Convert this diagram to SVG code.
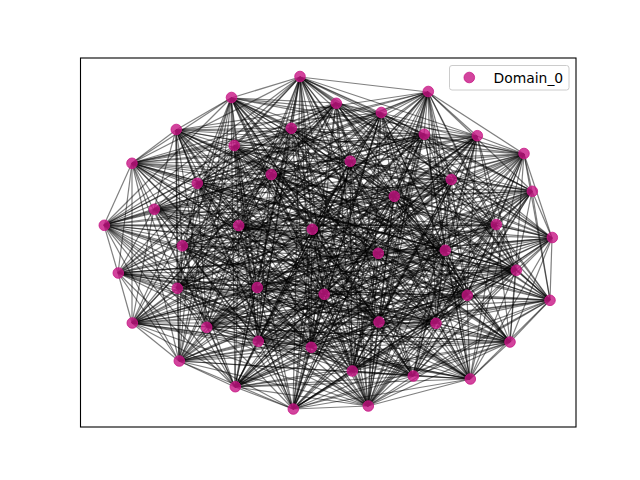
<svg xmlns="http://www.w3.org/2000/svg" width="640" height="480" viewBox="0 0 640 480">
<style>
#edges path{fill:none;stroke:#000;stroke-opacity:0.5;stroke-width:1.2}
.node{fill:#c71585;fill-opacity:0.8;stroke:#c71585;stroke-opacity:0.8;stroke-width:1}
.lbl{font-family:"DejaVu Sans",sans-serif;font-size:13.9px;fill:#000}
</style>
<rect x="0" y="0" width="640" height="480" fill="#fff"/>
<g id="edges">
<path d="M300 77 231 98"/><path d="M300 77 336 103"/><path d="M300 77 428 92"/><path d="M300 77 234 146"/><path d="M300 77 271 175"/><path d="M300 77 154 209"/><path d="M300 77 239 226"/><path d="M300 77 424 134"/><path d="M300 77 350 161"/><path d="M300 77 532 191"/><path d="M300 77 496 225"/><path d="M300 77 378 253"/><path d="M300 77 257 288"/><path d="M300 77 207 327"/><path d="M300 77 311 347"/><path d="M300 77 293 409"/><path d="M300 77 550 300"/><path d="M300 77 436 323"/><path d="M300 77 413 376"/><path d="M300 77 368 406"/>
<path d="M231 98 381 113"/><path d="M231 98 291 128"/><path d="M231 98 176 130"/><path d="M231 98 132 163"/><path d="M231 98 197 183"/><path d="M231 98 312 229"/><path d="M231 98 477 136"/><path d="M231 98 451 180"/><path d="M231 98 394 196"/><path d="M231 98 445 250"/><path d="M231 98 177 288"/><path d="M231 98 324 294"/><path d="M231 98 258 341"/><path d="M231 98 235 387"/><path d="M231 98 516 270"/><path d="M231 98 379 322"/><path d="M231 98 352 371"/><path d="M231 98 470 379"/>
<path d="M336 103 381 113"/><path d="M336 103 291 128"/><path d="M336 103 132 163"/><path d="M336 103 197 183"/><path d="M336 103 104 225"/><path d="M336 103 182 246"/><path d="M336 103 524 154"/><path d="M336 103 451 180"/><path d="M336 103 552 238"/><path d="M336 103 118 273"/><path d="M336 103 257 288"/><path d="M336 103 132 323"/><path d="M336 103 179 361"/><path d="M336 103 467 295"/><path d="M336 103 510 342"/><path d="M336 103 413 376"/>
<path d="M381 113 428 92"/><path d="M381 113 234 146"/><path d="M381 113 176 130"/><path d="M381 113 154 209"/><path d="M381 113 239 226"/><path d="M381 113 424 134"/><path d="M381 113 350 161"/><path d="M381 113 394 196"/><path d="M381 113 445 250"/><path d="M381 113 177 288"/><path d="M381 113 207 327"/><path d="M381 113 311 347"/><path d="M381 113 235 387"/><path d="M381 113 550 300"/><path d="M381 113 352 371"/><path d="M381 113 368 406"/>
<path d="M428 92 291 128"/><path d="M428 92 132 163"/><path d="M428 92 271 175"/><path d="M428 92 104 225"/><path d="M428 92 312 229"/><path d="M428 92 477 136"/><path d="M428 92 524 154"/><path d="M428 92 532 191"/><path d="M428 92 496 225"/><path d="M428 92 378 253"/><path d="M428 92 324 294"/><path d="M428 92 258 341"/><path d="M428 92 293 409"/><path d="M428 92 467 295"/><path d="M428 92 436 323"/><path d="M428 92 470 379"/>
<path d="M291 128 176 130"/><path d="M291 128 271 175"/><path d="M291 128 154 209"/><path d="M291 128 239 226"/><path d="M291 128 182 246"/><path d="M291 128 350 161"/><path d="M291 128 394 196"/><path d="M291 128 552 238"/><path d="M291 128 118 273"/><path d="M291 128 132 323"/><path d="M291 128 311 347"/><path d="M291 128 516 270"/><path d="M291 128 379 322"/><path d="M291 128 510 342"/><path d="M291 128 368 406"/>
<path d="M234 146 132 163"/><path d="M234 146 197 183"/><path d="M234 146 104 225"/><path d="M234 146 312 229"/><path d="M234 146 477 136"/><path d="M234 146 451 180"/><path d="M234 146 496 225"/><path d="M234 146 378 253"/><path d="M234 146 257 288"/><path d="M234 146 258 341"/><path d="M234 146 179 361"/><path d="M234 146 467 295"/><path d="M234 146 436 323"/><path d="M234 146 413 376"/>
<path d="M176 130 132 163"/><path d="M176 130 271 175"/><path d="M176 130 154 209"/><path d="M176 130 182 246"/><path d="M176 130 524 154"/><path d="M176 130 532 191"/><path d="M176 130 445 250"/><path d="M176 130 177 288"/><path d="M176 130 324 294"/><path d="M176 130 207 327"/><path d="M176 130 293 409"/><path d="M176 130 550 300"/><path d="M176 130 352 371"/><path d="M176 130 470 379"/>
<path d="M132 163 197 183"/><path d="M132 163 104 225"/><path d="M132 163 239 226"/><path d="M132 163 424 134"/><path d="M132 163 350 161"/><path d="M132 163 496 225"/><path d="M132 163 118 273"/><path d="M132 163 257 288"/><path d="M132 163 132 323"/><path d="M132 163 311 347"/><path d="M132 163 516 270"/><path d="M132 163 379 322"/><path d="M132 163 413 376"/>
<path d="M271 175 104 225"/><path d="M271 175 312 229"/><path d="M271 175 424 134"/><path d="M271 175 524 154"/><path d="M271 175 451 180"/><path d="M271 175 552 238"/><path d="M271 175 378 253"/><path d="M271 175 324 294"/><path d="M271 175 258 341"/><path d="M271 175 235 387"/><path d="M271 175 467 295"/><path d="M271 175 510 342"/><path d="M271 175 368 406"/>
<path d="M197 183 154 209"/><path d="M197 183 239 226"/><path d="M197 183 477 136"/><path d="M197 183 532 191"/><path d="M197 183 394 196"/><path d="M197 183 445 250"/><path d="M197 183 177 288"/><path d="M197 183 207 327"/><path d="M197 183 179 361"/><path d="M197 183 293 409"/><path d="M197 183 550 300"/><path d="M197 183 436 323"/><path d="M197 183 470 379"/>
<path d="M154 209 104 225"/><path d="M154 209 312 229"/><path d="M154 209 424 134"/><path d="M154 209 451 180"/><path d="M154 209 496 225"/><path d="M154 209 118 273"/><path d="M154 209 257 288"/><path d="M154 209 132 323"/><path d="M154 209 311 347"/><path d="M154 209 516 270"/><path d="M154 209 510 342"/><path d="M154 209 413 376"/>
<path d="M104 225 182 246"/><path d="M104 225 477 136"/><path d="M104 225 350 161"/><path d="M104 225 394 196"/><path d="M104 225 552 238"/><path d="M104 225 378 253"/><path d="M104 225 118 273"/><path d="M104 225 324 294"/><path d="M104 225 258 341"/><path d="M104 225 235 387"/><path d="M104 225 467 295"/><path d="M104 225 379 322"/><path d="M104 225 352 371"/><path d="M104 225 368 406"/>
<path d="M239 226 182 246"/><path d="M239 226 524 154"/><path d="M239 226 532 191"/><path d="M239 226 445 250"/><path d="M239 226 177 288"/><path d="M239 226 207 327"/><path d="M239 226 179 361"/><path d="M239 226 516 270"/><path d="M239 226 550 300"/><path d="M239 226 510 342"/><path d="M239 226 470 379"/>
<path d="M312 229 424 134"/><path d="M312 229 477 136"/><path d="M312 229 350 161"/><path d="M312 229 394 196"/><path d="M312 229 445 250"/><path d="M312 229 257 288"/><path d="M312 229 132 323"/><path d="M312 229 311 347"/><path d="M312 229 293 409"/><path d="M312 229 379 322"/><path d="M312 229 352 371"/><path d="M312 229 368 406"/>
<path d="M182 246 524 154"/><path d="M182 246 451 180"/><path d="M182 246 496 225"/><path d="M182 246 378 253"/><path d="M182 246 177 288"/><path d="M182 246 324 294"/><path d="M182 246 258 341"/><path d="M182 246 179 361"/><path d="M182 246 467 295"/><path d="M182 246 436 323"/><path d="M182 246 413 376"/>
<path d="M424 134 477 136"/><path d="M424 134 350 161"/><path d="M424 134 532 191"/><path d="M424 134 552 238"/><path d="M424 134 118 273"/><path d="M424 134 257 288"/><path d="M424 134 207 327"/><path d="M424 134 235 387"/><path d="M424 134 516 270"/><path d="M424 134 550 300"/><path d="M424 134 510 342"/><path d="M424 134 470 379"/>
<path d="M477 136 524 154"/><path d="M477 136 451 180"/><path d="M477 136 394 196"/><path d="M477 136 445 250"/><path d="M477 136 177 288"/><path d="M477 136 324 294"/><path d="M477 136 258 341"/><path d="M477 136 179 361"/><path d="M477 136 467 295"/><path d="M477 136 379 322"/><path d="M477 136 352 371"/>
<path d="M524 154 350 161"/><path d="M524 154 532 191"/><path d="M524 154 496 225"/><path d="M524 154 552 238"/><path d="M524 154 378 253"/><path d="M524 154 257 288"/><path d="M524 154 207 327"/><path d="M524 154 293 409"/><path d="M524 154 550 300"/><path d="M524 154 436 323"/><path d="M524 154 413 376"/><path d="M524 154 368 406"/>
<path d="M350 161 451 180"/><path d="M350 161 394 196"/><path d="M350 161 445 250"/><path d="M350 161 118 273"/><path d="M350 161 132 323"/><path d="M350 161 311 347"/><path d="M350 161 235 387"/><path d="M350 161 516 270"/><path d="M350 161 379 322"/><path d="M350 161 510 342"/><path d="M350 161 470 379"/>
<path d="M451 180 532 191"/><path d="M451 180 496 225"/><path d="M451 180 552 238"/><path d="M451 180 177 288"/><path d="M451 180 324 294"/><path d="M451 180 258 341"/><path d="M451 180 179 361"/><path d="M451 180 467 295"/><path d="M451 180 436 323"/><path d="M451 180 352 371"/><path d="M451 180 368 406"/>
<path d="M532 191 394 196"/><path d="M532 191 552 238"/><path d="M532 191 378 253"/><path d="M532 191 257 288"/><path d="M532 191 132 323"/><path d="M532 191 311 347"/><path d="M532 191 293 409"/><path d="M532 191 516 270"/><path d="M532 191 550 300"/><path d="M532 191 413 376"/>
<path d="M394 196 496 225"/><path d="M394 196 445 250"/><path d="M394 196 118 273"/><path d="M394 196 324 294"/><path d="M394 196 207 327"/><path d="M394 196 235 387"/><path d="M394 196 467 295"/><path d="M394 196 379 322"/><path d="M394 196 510 342"/><path d="M394 196 470 379"/>
<path d="M496 225 552 238"/><path d="M496 225 378 253"/><path d="M496 225 177 288"/><path d="M496 225 132 323"/><path d="M496 225 258 341"/><path d="M496 225 179 361"/><path d="M496 225 516 270"/><path d="M496 225 550 300"/><path d="M496 225 436 323"/><path d="M496 225 352 371"/><path d="M496 225 368 406"/>
<path d="M552 238 445 250"/><path d="M552 238 118 273"/><path d="M552 238 257 288"/><path d="M552 238 207 327"/><path d="M552 238 311 347"/><path d="M552 238 293 409"/><path d="M552 238 516 270"/><path d="M552 238 550 300"/><path d="M552 238 510 342"/><path d="M552 238 470 379"/>
<path d="M445 250 378 253"/><path d="M445 250 177 288"/><path d="M445 250 324 294"/><path d="M445 250 258 341"/><path d="M445 250 179 361"/><path d="M445 250 235 387"/><path d="M445 250 467 295"/><path d="M445 250 379 322"/><path d="M445 250 413 376"/><path d="M445 250 368 406"/>
<path d="M378 253 118 273"/><path d="M378 253 257 288"/><path d="M378 253 132 323"/><path d="M378 253 207 327"/><path d="M378 253 311 347"/><path d="M378 253 293 409"/><path d="M378 253 550 300"/><path d="M378 253 436 323"/><path d="M378 253 352 371"/><path d="M378 253 470 379"/>
<path d="M118 273 177 288"/><path d="M118 273 324 294"/><path d="M118 273 132 323"/><path d="M118 273 258 341"/><path d="M118 273 179 361"/><path d="M118 273 235 387"/><path d="M118 273 516 270"/><path d="M118 273 379 322"/><path d="M118 273 510 342"/><path d="M118 273 413 376"/>
<path d="M177 288 257 288"/><path d="M177 288 132 323"/><path d="M177 288 207 327"/><path d="M177 288 311 347"/><path d="M177 288 235 387"/><path d="M177 288 293 409"/><path d="M177 288 467 295"/><path d="M177 288 436 323"/><path d="M177 288 352 371"/><path d="M177 288 368 406"/>
<path d="M257 288 324 294"/><path d="M257 288 207 327"/><path d="M257 288 258 341"/><path d="M257 288 179 361"/><path d="M257 288 516 270"/><path d="M257 288 550 300"/><path d="M257 288 379 322"/><path d="M257 288 510 342"/><path d="M257 288 413 376"/><path d="M257 288 470 379"/>
<path d="M324 294 132 323"/><path d="M324 294 258 341"/><path d="M324 294 311 347"/><path d="M324 294 235 387"/><path d="M324 294 293 409"/><path d="M324 294 467 295"/><path d="M324 294 436 323"/><path d="M324 294 352 371"/><path d="M324 294 470 379"/>
<path d="M132 323 207 327"/><path d="M132 323 311 347"/><path d="M132 323 179 361"/><path d="M132 323 293 409"/><path d="M132 323 467 295"/><path d="M132 323 550 300"/><path d="M132 323 510 342"/><path d="M132 323 413 376"/><path d="M132 323 368 406"/>
<path d="M207 327 258 341"/><path d="M207 327 179 361"/><path d="M207 327 235 387"/><path d="M207 327 516 270"/><path d="M207 327 379 322"/><path d="M207 327 436 323"/><path d="M207 327 352 371"/><path d="M207 327 470 379"/>
<path d="M258 341 311 347"/><path d="M258 341 235 387"/><path d="M258 341 293 409"/><path d="M258 341 467 295"/><path d="M258 341 550 300"/><path d="M258 341 510 342"/><path d="M258 341 413 376"/><path d="M258 341 368 406"/>
<path d="M311 347 179 361"/><path d="M311 347 293 409"/><path d="M311 347 516 270"/><path d="M311 347 379 322"/><path d="M311 347 436 323"/><path d="M311 347 352 371"/><path d="M311 347 470 379"/>
<path d="M179 361 235 387"/><path d="M179 361 293 409"/><path d="M179 361 467 295"/><path d="M179 361 550 300"/><path d="M179 361 510 342"/><path d="M179 361 413 376"/><path d="M179 361 368 406"/>
<path d="M235 387 293 409"/><path d="M235 387 516 270"/><path d="M235 387 379 322"/><path d="M235 387 436 323"/><path d="M235 387 352 371"/><path d="M235 387 470 379"/><path d="M235 387 368 406"/>
<path d="M293 409 516 270"/><path d="M293 409 467 295"/><path d="M293 409 379 322"/><path d="M293 409 510 342"/><path d="M293 409 352 371"/><path d="M293 409 413 376"/><path d="M293 409 368 406"/>
<path d="M516 270 467 295"/><path d="M516 270 550 300"/><path d="M516 270 436 323"/><path d="M516 270 510 342"/><path d="M516 270 413 376"/><path d="M516 270 470 379"/>
<path d="M467 295 550 300"/><path d="M467 295 379 322"/><path d="M467 295 436 323"/><path d="M467 295 352 371"/><path d="M467 295 470 379"/><path d="M467 295 368 406"/>
<path d="M550 300 379 322"/><path d="M550 300 510 342"/><path d="M550 300 352 371"/><path d="M550 300 470 379"/>
<path d="M379 322 436 323"/><path d="M379 322 510 342"/><path d="M379 322 413 376"/><path d="M379 322 368 406"/>
<path d="M436 323 510 342"/><path d="M436 323 352 371"/><path d="M436 323 413 376"/><path d="M436 323 470 379"/>
<path d="M510 342 352 371"/><path d="M510 342 413 376"/><path d="M510 342 470 379"/>
<path d="M352 371 413 376"/><path d="M352 371 368 406"/>
<path d="M413 376 470 379"/><path d="M413 376 368 406"/>
<path d="M470 379 368 406"/>
<path d="M300 77 381 113"/><path d="M300 77 291 128"/><path d="M300 77 132 163"/><path d="M300 77 104 225"/><path d="M300 77 312 229"/><path d="M300 77 477 136"/><path d="M300 77 451 180"/><path d="M300 77 552 238"/><path d="M300 77 118 273"/><path d="M300 77 324 294"/><path d="M300 77 258 341"/><path d="M300 77 235 387"/><path d="M300 77 467 295"/><path d="M300 77 510 342"/><path d="M300 77 470 379"/>
<path d="M231 98 336 103"/><path d="M231 98 234 146"/><path d="M231 98 271 175"/><path d="M231 98 104 225"/><path d="M231 98 182 246"/><path d="M231 98 524 154"/><path d="M231 98 350 161"/><path d="M231 98 496 225"/><path d="M231 98 378 253"/><path d="M231 98 257 288"/><path d="M231 98 207 327"/><path d="M231 98 179 361"/><path d="M231 98 467 295"/><path d="M231 98 436 323"/><path d="M231 98 413 376"/>
<path d="M336 103 234 146"/><path d="M336 103 271 175"/><path d="M336 103 239 226"/><path d="M336 103 424 134"/><path d="M336 103 350 161"/><path d="M336 103 394 196"/><path d="M336 103 445 250"/><path d="M336 103 177 288"/><path d="M336 103 207 327"/><path d="M336 103 311 347"/><path d="M336 103 293 409"/><path d="M336 103 550 300"/><path d="M336 103 352 371"/><path d="M336 103 368 406"/>
<path d="M381 113 132 163"/><path d="M381 113 197 183"/><path d="M381 113 312 229"/><path d="M381 113 477 136"/><path d="M381 113 532 191"/><path d="M381 113 552 238"/><path d="M381 113 118 273"/><path d="M381 113 324 294"/><path d="M381 113 258 341"/><path d="M381 113 293 409"/><path d="M381 113 467 295"/><path d="M381 113 436 323"/><path d="M381 113 470 379"/>
<path d="M428 92 176 130"/><path d="M428 92 197 183"/><path d="M428 92 239 226"/><path d="M428 92 424 134"/><path d="M428 92 451 180"/><path d="M428 92 394 196"/><path d="M428 92 445 250"/><path d="M428 92 177 288"/><path d="M428 92 207 327"/><path d="M428 92 179 361"/><path d="M428 92 516 270"/><path d="M428 92 379 322"/><path d="M428 92 352 371"/><path d="M428 92 368 406"/>
<path d="M291 128 132 163"/><path d="M291 128 104 225"/><path d="M291 128 424 134"/><path d="M291 128 524 154"/><path d="M291 128 532 191"/><path d="M291 128 445 250"/><path d="M291 128 177 288"/><path d="M291 128 324 294"/><path d="M291 128 258 341"/><path d="M291 128 235 387"/><path d="M291 128 467 295"/><path d="M291 128 436 323"/><path d="M291 128 413 376"/>
<path d="M234 146 271 175"/><path d="M234 146 239 226"/><path d="M234 146 424 134"/><path d="M234 146 350 161"/><path d="M234 146 394 196"/><path d="M234 146 445 250"/><path d="M234 146 177 288"/><path d="M234 146 132 323"/><path d="M234 146 311 347"/><path d="M234 146 293 409"/><path d="M234 146 550 300"/><path d="M234 146 510 342"/><path d="M234 146 368 406"/>
<path d="M176 130 197 183"/><path d="M176 130 239 226"/><path d="M176 130 424 134"/><path d="M176 130 350 161"/><path d="M176 130 394 196"/><path d="M176 130 378 253"/><path d="M176 130 257 288"/><path d="M176 130 258 341"/><path d="M176 130 179 361"/><path d="M176 130 516 270"/><path d="M176 130 379 322"/><path d="M176 130 510 342"/><path d="M176 130 368 406"/>
<path d="M132 163 271 175"/><path d="M132 163 312 229"/><path d="M132 163 477 136"/><path d="M132 163 451 180"/><path d="M132 163 394 196"/><path d="M132 163 445 250"/><path d="M132 163 177 288"/><path d="M132 163 207 327"/><path d="M132 163 179 361"/><path d="M132 163 293 409"/><path d="M132 163 550 300"/><path d="M132 163 510 342"/><path d="M132 163 470 379"/>
<path d="M271 175 154 209"/><path d="M271 175 182 246"/><path d="M271 175 350 161"/><path d="M271 175 394 196"/><path d="M271 175 445 250"/><path d="M271 175 177 288"/><path d="M271 175 132 323"/><path d="M271 175 179 361"/><path d="M271 175 516 270"/><path d="M271 175 379 322"/><path d="M271 175 413 376"/>
<path d="M197 183 312 229"/><path d="M197 183 424 134"/><path d="M197 183 350 161"/><path d="M197 183 496 225"/><path d="M197 183 378 253"/><path d="M197 183 257 288"/><path d="M197 183 132 323"/><path d="M197 183 311 347"/><path d="M197 183 516 270"/><path d="M197 183 379 322"/><path d="M197 183 352 371"/><path d="M197 183 368 406"/>
<path d="M154 209 182 246"/><path d="M154 209 524 154"/><path d="M154 209 532 191"/><path d="M154 209 552 238"/><path d="M154 209 378 253"/><path d="M154 209 324 294"/><path d="M154 209 258 341"/><path d="M154 209 235 387"/><path d="M154 209 467 295"/><path d="M154 209 436 323"/><path d="M154 209 470 379"/>
<path d="M104 225 239 226"/><path d="M104 225 424 134"/><path d="M104 225 451 180"/><path d="M104 225 496 225"/><path d="M104 225 177 288"/><path d="M104 225 207 327"/><path d="M104 225 179 361"/><path d="M104 225 516 270"/><path d="M104 225 436 323"/><path d="M104 225 413 376"/>
<path d="M239 226 312 229"/><path d="M239 226 477 136"/><path d="M239 226 451 180"/><path d="M239 226 496 225"/><path d="M239 226 378 253"/><path d="M239 226 257 288"/><path d="M239 226 258 341"/><path d="M239 226 235 387"/><path d="M239 226 467 295"/><path d="M239 226 436 323"/><path d="M239 226 413 376"/>
<path d="M312 229 182 246"/><path d="M312 229 451 180"/><path d="M312 229 496 225"/><path d="M312 229 118 273"/><path d="M312 229 324 294"/><path d="M312 229 258 341"/><path d="M312 229 235 387"/><path d="M312 229 467 295"/><path d="M312 229 436 323"/><path d="M312 229 413 376"/>
<path d="M182 246 424 134"/><path d="M182 246 350 161"/><path d="M182 246 394 196"/><path d="M182 246 445 250"/><path d="M182 246 257 288"/><path d="M182 246 207 327"/><path d="M182 246 235 387"/><path d="M182 246 516 270"/><path d="M182 246 379 322"/><path d="M182 246 352 371"/><path d="M182 246 368 406"/>
<path d="M424 134 524 154"/><path d="M424 134 394 196"/><path d="M424 134 445 250"/><path d="M424 134 177 288"/><path d="M424 134 132 323"/><path d="M424 134 311 347"/><path d="M424 134 293 409"/><path d="M424 134 379 322"/><path d="M424 134 352 371"/><path d="M424 134 368 406"/>
<path d="M477 136 350 161"/><path d="M477 136 496 225"/><path d="M477 136 378 253"/><path d="M477 136 257 288"/><path d="M477 136 207 327"/><path d="M477 136 235 387"/><path d="M477 136 516 270"/><path d="M477 136 436 323"/><path d="M477 136 413 376"/><path d="M477 136 368 406"/>
<path d="M524 154 451 180"/><path d="M524 154 445 250"/><path d="M524 154 177 288"/><path d="M524 154 132 323"/><path d="M524 154 311 347"/><path d="M524 154 235 387"/><path d="M524 154 467 295"/><path d="M524 154 510 342"/><path d="M524 154 470 379"/>
<path d="M350 161 532 191"/><path d="M350 161 552 238"/><path d="M350 161 177 288"/><path d="M350 161 324 294"/><path d="M350 161 258 341"/><path d="M350 161 293 409"/><path d="M350 161 550 300"/><path d="M350 161 352 371"/><path d="M350 161 368 406"/>
<path d="M451 180 394 196"/><path d="M451 180 378 253"/><path d="M451 180 257 288"/><path d="M451 180 207 327"/><path d="M451 180 235 387"/><path d="M451 180 516 270"/><path d="M451 180 379 322"/><path d="M451 180 413 376"/>
<path d="M532 191 496 225"/><path d="M532 191 118 273"/><path d="M532 191 324 294"/><path d="M532 191 258 341"/><path d="M532 191 235 387"/><path d="M532 191 467 295"/><path d="M532 191 436 323"/><path d="M532 191 352 371"/><path d="M532 191 368 406"/>
<path d="M394 196 552 238"/><path d="M394 196 177 288"/><path d="M394 196 132 323"/><path d="M394 196 311 347"/><path d="M394 196 293 409"/><path d="M394 196 550 300"/><path d="M394 196 352 371"/><path d="M394 196 368 406"/>
<path d="M496 225 445 250"/><path d="M496 225 257 288"/><path d="M496 225 207 327"/><path d="M496 225 235 387"/><path d="M496 225 467 295"/><path d="M496 225 510 342"/><path d="M496 225 470 379"/>
<path d="M552 238 378 253"/><path d="M552 238 324 294"/><path d="M552 238 258 341"/><path d="M552 238 235 387"/><path d="M552 238 467 295"/><path d="M552 238 436 323"/><path d="M552 238 413 376"/>
<path d="M445 250 118 273"/><path d="M445 250 132 323"/><path d="M445 250 311 347"/><path d="M445 250 516 270"/><path d="M445 250 436 323"/><path d="M445 250 352 371"/><path d="M445 250 470 379"/>
<path d="M378 253 177 288"/><path d="M378 253 258 341"/><path d="M378 253 235 387"/><path d="M378 253 467 295"/><path d="M378 253 510 342"/><path d="M378 253 368 406"/>
<path d="M118 273 257 288"/><path d="M118 273 311 347"/><path d="M118 273 467 295"/><path d="M118 273 436 323"/><path d="M118 273 470 379"/>
<path d="M177 288 324 294"/><path d="M177 288 179 361"/><path d="M177 288 516 270"/><path d="M177 288 379 322"/><path d="M177 288 413 376"/>
<path d="M257 288 132 323"/><path d="M257 288 311 347"/><path d="M257 288 293 409"/><path d="M257 288 436 323"/><path d="M257 288 368 406"/>
<path d="M324 294 207 327"/><path d="M324 294 179 361"/><path d="M324 294 550 300"/><path d="M324 294 510 342"/><path d="M324 294 368 406"/>
<path d="M132 323 258 341"/><path d="M132 323 516 270"/><path d="M132 323 436 323"/><path d="M132 323 470 379"/>
<path d="M207 327 311 347"/><path d="M207 327 467 295"/><path d="M207 327 510 342"/><path d="M207 327 368 406"/>
<path d="M258 341 179 361"/><path d="M258 341 516 270"/><path d="M258 341 436 323"/><path d="M258 341 470 379"/>
<path d="M311 347 235 387"/><path d="M311 347 467 295"/><path d="M311 347 510 342"/><path d="M311 347 368 406"/>
<path d="M179 361 516 270"/><path d="M179 361 436 323"/><path d="M179 361 470 379"/>
<path d="M235 387 467 295"/><path d="M235 387 510 342"/><path d="M235 387 413 376"/>
<path d="M293 409 550 300"/><path d="M293 409 436 323"/><path d="M293 409 470 379"/>
<path d="M516 270 379 322"/><path d="M516 270 352 371"/><path d="M516 270 368 406"/>
<path d="M467 295 510 342"/><path d="M467 295 413 376"/>
<path d="M550 300 436 323"/><path d="M550 300 413 376"/><path d="M550 300 368 406"/>
<path d="M379 322 352 371"/><path d="M379 322 470 379"/>
<path d="M436 323 368 406"/><path d="M510 342 368 406"/><path d="M352 371 470 379"/>
</g>
<g id="nodes">
<g id="n1"><circle class="node" cx="300" cy="76.5" r="5.3"/></g>
<g id="n2"><circle class="node" cx="231.5" cy="97.5" r="5.3"/></g>
<g id="n3"><circle class="node" cx="336.3" cy="103.3" r="5.3"/></g>
<g id="n4"><circle class="node" cx="381.3" cy="112.5" r="5.3"/></g>
<g id="n5"><circle class="node" cx="428.3" cy="91.5" r="5.3"/></g>
<g id="n6"><circle class="node" cx="291.3" cy="128.3" r="5.3"/></g>
<g id="n7"><circle class="node" cx="234.3" cy="145.5" r="5.3"/></g>
<g id="n8"><circle class="node" cx="176.3" cy="129.5" r="5.3"/></g>
<g id="n9"><circle class="node" cx="132" cy="163.3" r="5.3"/></g>
<g id="n10"><circle class="node" cx="271.3" cy="174.5" r="5.3"/></g>
<g id="n11"><circle class="node" cx="197.3" cy="183.3" r="5.3"/></g>
<g id="n12"><circle class="node" cx="154.3" cy="209.3" r="5.3"/></g>
<g id="n13"><circle class="node" cx="104.3" cy="225.3" r="5.3"/></g>
<g id="n14"><circle class="node" cx="238.7" cy="225.5" r="5.3"/></g>
<g id="n15"><circle class="node" cx="312.3" cy="229.3" r="5.3"/></g>
<g id="n16"><circle class="node" cx="182.3" cy="245.8" r="5.3"/></g>
<g id="n17"><circle class="node" cx="424.3" cy="134.3" r="5.3"/></g>
<g id="n18"><circle class="node" cx="477.3" cy="135.7" r="5.3"/></g>
<g id="n19"><circle class="node" cx="524" cy="153.5" r="5.3"/></g>
<g id="n20"><circle class="node" cx="350.3" cy="161.3" r="5.3"/></g>
<g id="n21"><circle class="node" cx="451.3" cy="179.5" r="5.3"/></g>
<g id="n22"><circle class="node" cx="532.3" cy="191.3" r="5.3"/></g>
<g id="n23"><circle class="node" cx="394.3" cy="196.3" r="5.3"/></g>
<g id="n24"><circle class="node" cx="496.3" cy="224.5" r="5.3"/></g>
<g id="n25"><circle class="node" cx="552.3" cy="237.5" r="5.3"/></g>
<g id="n26"><circle class="node" cx="445.3" cy="250.3" r="5.3"/></g>
<g id="n27"><circle class="node" cx="378.3" cy="253.3" r="5.3"/></g>
<g id="n28"><circle class="node" cx="118.3" cy="273" r="5.3"/></g>
<g id="n29"><circle class="node" cx="177.3" cy="288.3" r="5.3"/></g>
<g id="n30"><circle class="node" cx="257.3" cy="287.5" r="5.3"/></g>
<g id="n31"><circle class="node" cx="324.2" cy="294.3" r="5.3"/></g>
<g id="n32"><circle class="node" cx="132.3" cy="323" r="5.3"/></g>
<g id="n33"><circle class="node" cx="206.7" cy="327.3" r="5.3"/></g>
<g id="n34"><circle class="node" cx="258.3" cy="341.3" r="5.3"/></g>
<g id="n35"><circle class="node" cx="311.3" cy="347.3" r="5.3"/></g>
<g id="n36"><circle class="node" cx="179.3" cy="361" r="5.3"/></g>
<g id="n37"><circle class="node" cx="235.3" cy="386.7" r="5.3"/></g>
<g id="n38"><circle class="node" cx="293.3" cy="409" r="5.3"/></g>
<g id="n39"><circle class="node" cx="516.3" cy="270.3" r="5.3"/></g>
<g id="n40"><circle class="node" cx="467.3" cy="295.3" r="5.3"/></g>
<g id="n41"><circle class="node" cx="550" cy="300.3" r="5.3"/></g>
<g id="n42"><circle class="node" cx="379" cy="322" r="5.3"/></g>
<g id="n43"><circle class="node" cx="436" cy="323.3" r="5.3"/></g>
<g id="n44"><circle class="node" cx="510" cy="342" r="5.3"/></g>
<g id="n45"><circle class="node" cx="352.3" cy="371" r="5.3"/></g>
<g id="n46"><circle class="node" cx="413.3" cy="376" r="5.3"/></g>
<g id="n47"><circle class="node" cx="470.3" cy="379" r="5.3"/></g>
<g id="n48"><circle class="node" cx="368.3" cy="406" r="5.3"/></g>
</g>
<rect x="80.5" y="58" width="495.5" height="369" fill="none" stroke="#000" stroke-width="1.1"/>
<g id="legend">
<rect x="449.5" y="65.5" width="119.5" height="24.5" rx="2.5" fill="#fff" fill-opacity="0.8" stroke="#cccccc" stroke-width="1"/>
<circle class="node" cx="469.3" cy="77.5" r="5.3"/>
<text class="lbl" x="493.5" y="82.5">Domain_0</text>
</g>
</svg>
